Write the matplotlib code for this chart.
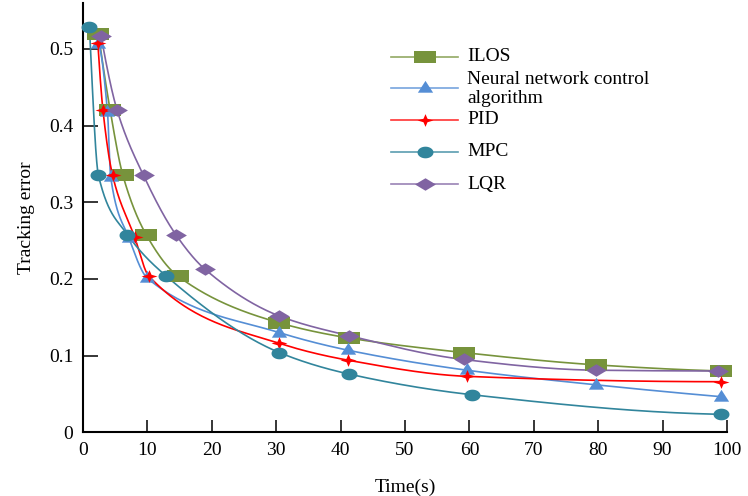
import numpy as np
import matplotlib
matplotlib.use("Agg")
import matplotlib.pyplot as plt
from matplotlib.lines import Line2D

# ---------------- data ----------------
series_names = ["ILOS", "Neural network control\nalgorithm", "PID", "MPC", "LQR"]

ilos_x = [2.4, 4.2, 6.2, 9.8, 14.7, 30.4, 41.3, 59.1, 79.6, 99.0]
ilos_y = [0.520, 0.421, 0.335, 0.258, 0.204, 0.143, 0.123, 0.104, 0.088, 0.080]

nn_x = [2.3, 3.8, 4.3, 7.1, 10.0, 30.5, 41.2, 59.6, 79.6, 99.0]
nn_y = [0.506, 0.418, 0.333, 0.254, 0.201, 0.130, 0.107, 0.081, 0.062, 0.0465]

pid_x = [2.3, 3.1, 4.6, 8.0, 10.2, 30.5, 41.2, 59.6, 99.0]
pid_y = [0.508, 0.420, 0.335, 0.255, 0.204, 0.116, 0.094, 0.073, 0.066]

mpc_x = [1.0, 2.4, 6.9, 12.9, 30.5, 41.3, 60.4, 99.0]
mpc_y = [0.529, 0.335, 0.258, 0.204, 0.104, 0.076, 0.049, 0.0235]

lqr_x = [2.8, 5.3, 9.4, 14.4, 18.9, 30.4, 41.3, 59.1, 79.6, 98.6]
lqr_y = [0.517, 0.420, 0.335, 0.258, 0.213, 0.152, 0.126, 0.095, 0.081, 0.080]

x_ticks = [0, 10, 20, 30, 40, 50, 60, 70, 80, 90, 100]
y_ticks = [0, 0.1, 0.2, 0.3, 0.4, 0.5]
y_tick_labels = ["0", "0.1", "0.2", "0.3", "0.4", "0.5"]

# ---------------- styles ----------------
colors = ["#77933C", "#558ED5", "#FF0000", "#31859C", "#8064A2"]

th = np.linspace(0, 2 * np.pi, 40)
ellipse = list(zip(np.cos(th), 0.73 * np.sin(th)))
rect = [(-1, -0.6), (1, -0.6), (1, 0.6), (-1, 0.6), (-1, -0.6)]
diamond = [(-1, 0), (0, -0.6), (1, 0), (0, 0.6), (-1, 0)]
tri = [(-1, -0.55), (1, -0.55), (0, 1.0), (-1, -0.55)]
star = [(1, 0), (0.25, 0.22), (0, 0.8), (-0.25, 0.22), (-1, 0),
        (-0.25, -0.22), (0, -0.8), (0.25, -0.22), (1, 0)]
markers = [rect, tri, star, ellipse, diamond]
msizes = [15.5, 11.0, 11.5, 11.5, 15.0]

plt.rcParams["font.family"] = ["Liberation Serif", "DejaVu Serif"]

W, H = 748, 496
fig = plt.figure(figsize=(W / 100, H / 100), dpi=100)
ax = fig.add_axes([83 / W, (H - 432.3) / H, (727 - 83) / W, (432.3 - 3) / H])
ax.set_xlim(0, 100)
ax.set_ylim(0, 0.56)


def _edge(h0, h1, d0, d1):
    m = ((2 * h0 + h1) * d0 - h0 * d1) / (h0 + h1)
    if np.sign(m) != np.sign(d0):
        m = 0.0
    elif np.sign(d0) != np.sign(d1) and abs(m) > abs(3 * d0):
        m = 3 * d0
    return m


def smooth(xs, ys, n=60):
    """Monotone cubic (PCHIP) smoothed line through the points."""
    x = np.asarray(xs, float)
    y = np.asarray(ys, float)
    h = np.diff(x)
    d = np.diff(y) / h
    m = np.zeros_like(y)
    for k in range(1, len(x) - 1):
        if d[k - 1] * d[k] <= 0:
            m[k] = 0.0
        else:
            w1 = 2 * h[k] + h[k - 1]
            w2 = h[k] + 2 * h[k - 1]
            m[k] = (w1 + w2) / (w1 / d[k - 1] + w2 / d[k])
    m[0] = _edge(h[0], h[1], d[0], d[1])
    m[-1] = _edge(h[-1], h[-2], d[-1], d[-2])
    X, Y = [], []
    for k in range(len(x) - 1):
        t = np.linspace(0, 1, n)
        h00 = 2 * t ** 3 - 3 * t ** 2 + 1
        h10 = t ** 3 - 2 * t ** 2 + t
        h01 = -2 * t ** 3 + 3 * t ** 2
        h11 = t ** 3 - t ** 2
        X.append(x[k] + t * h[k])
        Y.append(h00 * y[k] + h10 * h[k] * m[k] + h01 * y[k + 1] + h11 * h[k] * m[k + 1])
    return np.concatenate(X), np.concatenate(Y)


data = [(ilos_x, ilos_y), (nn_x, nn_y), (pid_x, pid_y), (mpc_x, mpc_y), (lqr_x, lqr_y)]
for k, (xs, ys) in enumerate(data):
    sx, sy = smooth(xs, ys)
    ax.plot(sx, sy, color=colors[k], lw=1.2, zorder=2 + k * 0.1, clip_on=False)
for k, (xs, ys) in enumerate(data):
    ax.plot(xs, ys, ls="none", marker=markers[k], ms=msizes[k], mfc=colors[k],
            mec=colors[k], mew=0, zorder=3 + k * 0.1, clip_on=False)

# axes styling
for s in ["top", "right"]:
    ax.spines[s].set_visible(False)
for s in ["left", "bottom"]:
    ax.spines[s].set_linewidth(1.5)
ax.set_xticks(x_ticks)
ax.set_xticklabels([str(v) for v in x_ticks])
ax.set_yticks(y_ticks)
ax.set_yticklabels(y_tick_labels)
ax.tick_params(axis="x", direction="in", length=9, width=1.1, labelsize=14, pad=7)
ax.tick_params(axis="y", direction="in", length=11, width=1.1, labelsize=14, pad=7)
ax.set_xlabel("Time(s)", fontsize=14, labelpad=14)
ax.set_ylabel("Tracking error", fontsize=14, labelpad=10)

# manual legend (figure pixel coordinates, y from top)
def fx(px):
    return px / W


def fy(py):
    return 1 - py / H


rows_y = [56.7, 88.3, 120.0, 151.7, 184.0]
text_y = [56.7, 89.0, 120.0, 151.7, 184.0]
for k in range(5):
    y = rows_y[k]
    fig.add_artist(Line2D([fx(391), fx(458)], [fy(y), fy(y)], color=colors[k], lw=1.2,
                          transform=fig.transFigure, alpha=0.8))
    fig.add_artist(Line2D([fx(424.5)], [fy(y)], ls="none", marker=markers[k], ms=msizes[k],
                          mfc=colors[k], mew=0, transform=fig.transFigure))
    fig.text(fx(467), fy(text_y[k]), series_names[k], fontsize=14, ha="left", va="center",
             linespacing=1.1)

fig.savefig("out.png", dpi=100)
